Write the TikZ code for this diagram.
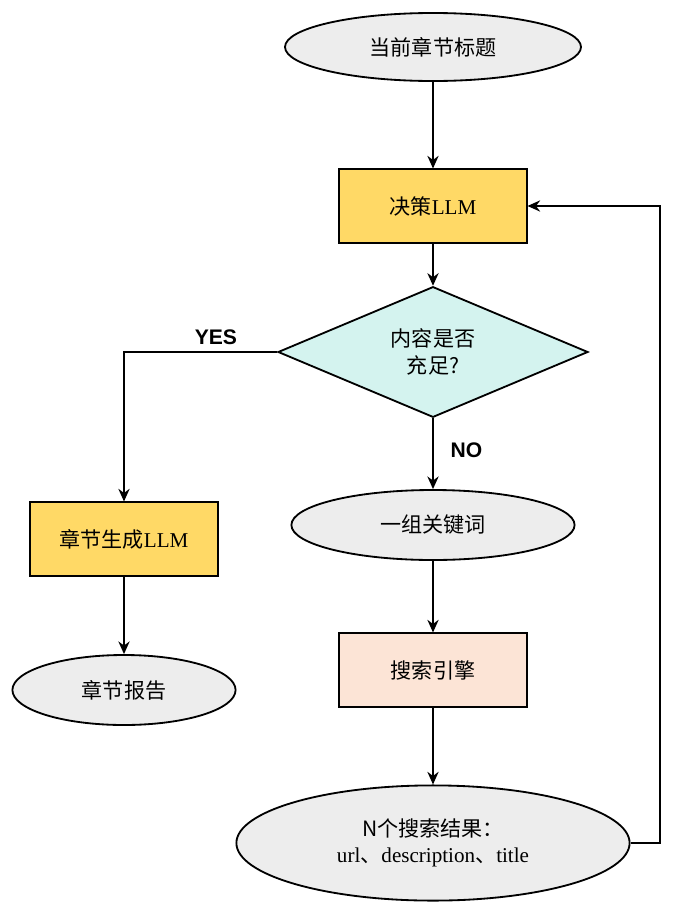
\documentclass[tikz,border=0pt]{standalone}
\usepackage{fontspec}
\setmainfont{Liberation Serif}
\newfontfamily\cjk{Noto Sans CJK SC}
\newfontfamily\lab{Liberation Sans}
\usetikzlibrary{arrows.meta, shapes.geometric, positioning}

\definecolor{goldbox}{HTML}{FFD966}
\definecolor{cyanbox}{HTML}{D4F3EF}
\definecolor{peachbox}{HTML}{FCE4D6}
\definecolor{greyell}{HTML}{EDEDED}

\tikzset{
    base/.style={draw, line width=1.3pt, font=\fontsize{15}{19}\selectfont, align=center, inner sep=0pt},
    term/.style={base, ellipse, fill=greyell},
    proc/.style={base, rectangle, minimum width=4.68cm, minimum height=1.83cm},
    dec/.style={base, diamond, fill=cyanbox, minimum width=7.75cm, minimum height=3.12cm},
    flow/.style={line width=1.3pt, -{Stealth[length=9pt,width=8pt]}}
}

\begin{document}
\begin{tikzpicture}
    \useasboundingbox (0,0) rectangle (17.4,-22.975);
    \node[term, minimum width=7.4cm, minimum height=1.7cm] (title) at (10.825,-1.175) {\cjk 当前章节标题};
    \node[proc, fill=goldbox] (decide) at (10.825,-5.15) {{\cjk 决策}LLM};
    \node[dec] (enough) at (10.825,-8.8) {\cjk 内容是否\\\cjk 充足?};
    \node[term, minimum width=7.08cm, minimum height=1.75cm] (keys) at (10.825,-13.125) {\cjk 一组关键词};
    \node[proc, fill=peachbox] (search) at (10.825,-16.75) {\cjk 搜索引擎};
    \node[term, minimum width=9.83cm, minimum height=2.88cm] (results) at (10.825,-21.075) {{\cjk N个搜索结果：}\\url{\cjk 、}description{\cjk 、}title};
    \node[proc, fill=goldbox] (gen) at (3.1,-13.475) {{\cjk 章节生成}LLM};
    \node[term, minimum width=5.58cm, minimum height=1.75cm] (report) at (3.1,-17.25) {\cjk 章节报告};

    \draw[flow] (title) -- (decide);
    \draw[flow] (decide) -- (enough);
    \draw[flow] (enough) -- node[pos=0.45, right=0.3cm, font=\lab\bfseries\fontsize{15}{18}\selectfont] {NO} (keys);
    \draw[flow] (keys) -- (search);
    \draw[flow] (search) -- (results);
    \draw[flow] (enough.west) -- node[above=1pt, pos=0.4, font=\lab\bfseries\fontsize{15}{18}\selectfont] {YES} (gen.north |- enough.west) -- (gen.north);
    \draw[flow] (gen) -- (report);
    \draw[flow] (results.east) -- (16.5,-21.075) |- (decide.east);
\end{tikzpicture}
\end{document}
